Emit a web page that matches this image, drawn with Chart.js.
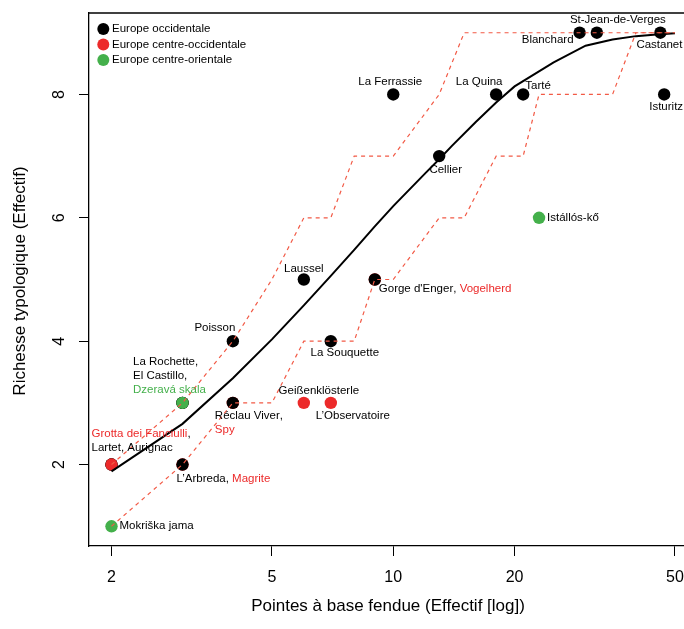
<!DOCTYPE html>
<html>
<head>
<meta charset="utf-8">
<script src="https://cdn.jsdelivr.net/npm/chart.js@4.4.1/dist/chart.umd.min.js"></script>
<style>
  html, body { margin: 0; padding: 0; background: #fff; overflow: hidden; }
  #wrap { position: relative; width: 684px; height: 629px; }
</style>
</head>
<body>
<div id="wrap"><canvas id="chartCanvas"></canvas></div>
<script>
// sites (order = drawing order, later ones on top)
const siteNames = ['Mokriška jama', 'Lartet', 'Aurignac', 'Grotta dei Fanciulli', 'Magrite', 'L\u2019Arbreda',
  'La Rochette', 'El Castillo', 'Dzeravá skala', 'Spy', 'Réclau Viver', 'Poisson', 'Geißenklösterle',
  'L\u2019Observatoire', 'Laussel', 'La Souquette', 'Vogelherd', 'Gorge d\'Enger', 'La Ferrassie', 'Cellier',
  'La Quina', 'Tarté', 'Istállós-kő', 'Blanchard', 'St-Jean-de-Verges', 'Castanet', 'Isturitz'];
const siteX = [2, 2, 2, 2, 3, 3, 3, 3, 3, 4, 4, 4, 6, 7, 6, 7, 9, 9, 10, 13, 18, 21, 23, 29, 32, 46, 47];
const siteY = [1, 2, 2, 2, 2, 2, 3, 3, 3, 3, 3, 4, 3, 3, 5, 4, 5, 5, 8, 7, 8, 8, 6, 9, 9, 9, 8];
// 0 = Europe occidentale, 1 = centre-occidentale, 2 = centre-orientale
const siteRegion = [2, 0, 0, 1, 1, 0, 0, 0, 2, 1, 0, 0, 1, 1, 0, 0, 1, 0, 0, 0, 0, 0, 2, 0, 0, 0, 0];
const regionNames = ['Europe occidentale', 'Europe centre-occidentale', 'Europe centre-orientale'];

// courbe de raréfaction + enveloppe
const curveX = [2, 3, 4, 5, 6, 7, 8, 9, 10, 12, 13, 14, 16, 18, 20, 25, 30, 35, 40, 45, 50];
const curveY = [1.89, 2.66, 3.40, 4.03, 4.58, 5.06, 5.48, 5.86, 6.19, 6.72, 6.95, 7.17, 7.55, 7.87, 8.13, 8.52, 8.79, 8.89, 8.945, 8.97, 8.99];
const upperX = [2, 3, 4, 5, 6, 7, 8, 10, 13, 15, 50];
const upperY = [2, 3, 4, 5, 6, 6, 7, 7, 8, 9, 9];
const lowerX = [2, 3, 4, 5, 6, 8, 9, 10, 13, 15, 18, 21, 23, 35, 40, 50];
const lowerY = [1, 2, 3, 3, 4, 4, 5, 5, 6, 6, 7, 7, 8, 8, 9, 9];

const xTicks = [2, 5, 10, 20, 50];
const yTicks = [2, 4, 6, 8];
const xTitle = 'Pointes à base fendue (Effectif [log])';
const yTitle = 'Richesse typologique (Effectif)';

const regionColors = ['#000000', '#ec2a2a', '#44b04b'];
const bandColor = '#f25a46';
const FONT = '"Liberation Sans", Arial, Helvetica, sans-serif';

// étiquettes : lignes de sites, décalage en pixels depuis le premier site
const labelGroups = [
  { lines: [[0]], dx: 8, dy: 0, align: 'left' },
  { lines: [[3], [1, 2]], dx: -20, dy: -30.5, align: 'left' },
  { lines: [[6], [7], [8]], dx: -49.5, dy: -41.5, align: 'left' },
  { lines: [[11]], dx: -18, dy: -13.5, align: 'center' },
  { lines: [[10], [9]], dx: -18, dy: 13, align: 'left' },
  { lines: [[5, 4]], dx: -6, dy: 14, align: 'left' },
  { lines: [[12]], dx: 15, dy: -12.5, align: 'center' },
  { lines: [[13]], dx: 22, dy: 13, align: 'center' },
  { lines: [[14]], dx: 0, dy: -11, align: 'center' },
  { lines: [[15]], dx: 14, dy: 12, align: 'center' },
  { lines: [[17, 16]], dx: 4, dy: 9, align: 'left' },
  { lines: [[22]], dx: 8, dy: 0, align: 'left' },
  { lines: [[18]], dx: -3, dy: -12.5, align: 'center' },
  { lines: [[19]], dx: 6.5, dy: 14, align: 'center' },
  { lines: [[20]], dx: -17, dy: -12.5, align: 'center' },
  { lines: [[21]], dx: 15, dy: -9, align: 'center' },
  { lines: [[23]], dx: -32, dy: 7, align: 'center' },
  { lines: [[24]], dx: 21, dy: -12.5, align: 'center' },
  { lines: [[25]], dx: -1, dy: 12, align: 'center' },
  { lines: [[26]], dx: 2, dy: 12, align: 'center' }
];

function toPoints(xs, ys) {
  return xs.map((x, i) => ({ x: x, y: ys[i] }));
}

const decor = {
  id: 'decor',
  afterDraw(chart) {
    const ctx = chart.ctx;
    const xs = chart.scales.x, ys = chart.scales.y;
    const area = chart.chartArea;
    ctx.save();

    // bord haut du cadre
    ctx.strokeStyle = '#000';
    ctx.lineWidth = 1.3;
    ctx.beginPath();
    ctx.moveTo(area.left, area.top);
    ctx.lineTo(area.right, area.top);
    ctx.stroke();

    // graduations
    ctx.fillStyle = '#000';
    ctx.font = '16px ' + FONT;
    ctx.textAlign = 'center';
    ctx.textBaseline = 'middle';
    xTicks.forEach(v => ctx.fillText(String(v), xs.getPixelForValue(v), 578));
    yTicks.forEach(v => {
      ctx.save();
      ctx.translate(60, ys.getPixelForValue(v));
      ctx.rotate(-Math.PI / 2);
      ctx.fillText(String(v), 0, 0);
      ctx.restore();
    });

    // titres
    ctx.font = '17px ' + FONT;
    ctx.fillText(xTitle, 388, 606);
    ctx.save();
    ctx.translate(20, 281);
    ctx.rotate(-Math.PI / 2);
    ctx.fillText(yTitle, 0, 0);
    ctx.restore();

    // étiquettes des sites (couleur de région seulement pour les étiquettes groupées)
    ctx.font = '11.5px ' + FONT;
    ctx.textBaseline = 'middle';
    labelGroups.forEach(g => {
      const first = g.lines[0][0];
      const multi = g.lines.flat().length > 1;
      const px = xs.getPixelForValue(siteX[first]) + g.dx;
      let py = ys.getPixelForValue(siteY[first]) + g.dy;
      g.lines.forEach((line, li) => {
        const segs = [];
        line.forEach((s, k) => {
          segs.push({ t: siteNames[s], c: multi ? regionColors[siteRegion[s]] : '#000' });
          if (k < line.length - 1) segs.push({ t: ', ', c: '#000' });
        });
        if (li < g.lines.length - 1) segs.push({ t: ',', c: '#000' });
        const total = segs.reduce((w, s) => w + ctx.measureText(s.t).width, 0);
        let x = g.align === 'center' ? px - total / 2 : px;
        ctx.textAlign = 'left';
        segs.forEach(s => {
          ctx.fillStyle = s.c;
          ctx.fillText(s.t, x, py);
          x += ctx.measureText(s.t).width;
        });
        py += 14;
      });
    });

    // légende
    regionNames.forEach((name, i) => {
      const y = 29 + i * 15.5;
      ctx.fillStyle = regionColors[i];
      ctx.beginPath();
      ctx.arc(103.3, y, 6, 0, Math.PI * 2);
      ctx.fill();
      ctx.fillStyle = '#000';
      ctx.textAlign = 'left';
      ctx.fillText(name, 112, y);
    });
    ctx.restore();
  }
};

const ctx = document.getElementById('chartCanvas').getContext('2d');
const chart = new Chart(ctx, {
  type: 'scatter',
  data: {
    datasets: [
      {
        label: 'borne inférieure',
        data: toPoints(lowerX, lowerY),
        showLine: true, borderColor: bandColor, borderWidth: 1.2, borderDash: [4, 4],
        pointRadius: 0, fill: false
      },
      {
        label: 'borne supérieure',
        data: toPoints(upperX, upperY),
        showLine: true, borderColor: bandColor, borderWidth: 1.2, borderDash: [4, 4],
        pointRadius: 0, fill: false
      },
      {
        label: 'courbe',
        data: toPoints(curveX, curveY),
        showLine: true, borderColor: '#000', borderWidth: 2,
        pointRadius: 0, fill: false
      },
      {
        label: 'sites',
        data: toPoints(siteX, siteY),
        pointRadius: 6.2, pointHoverRadius: 6.2, pointBorderWidth: 0,
        pointBackgroundColor: siteRegion.map(r => regionColors[r]),
        pointBorderColor: siteRegion.map(r => regionColors[r])
      }
    ]
  },
  options: {
    responsive: true,
    maintainAspectRatio: false,
    animation: false,
    layout: { autoPadding: false, padding: { top: 13, right: 0, left: 0, bottom: 0 } },
    plugins: { legend: { display: false }, tooltip: { enabled: false } },
    scales: {
      x: {
        type: 'logarithmic',
        min: 1.7587,
        max: 52.64,
        afterBuildTicks: s => { s.ticks = xTicks.map(v => ({ value: v })); },
        afterFit: s => { s.height = 83; },
        ticks: { display: false },
        grid: { drawOnChartArea: false, drawTicks: true, tickLength: 10, color: '#000', lineWidth: 1 },
        border: { display: true, color: '#000', width: 1.3 }
      },
      y: {
        type: 'linear',
        min: 0.68,
        max: 9.32,
        afterBuildTicks: s => { s.ticks = yTicks.map(v => ({ value: v })); },
        afterFit: s => { s.width = 89; },
        ticks: { display: false },
        grid: { drawOnChartArea: false, drawTicks: true, tickLength: 10, color: '#000', lineWidth: 1 },
        border: { display: true, color: '#000', width: 1.3 }
      }
    }
  },
  plugins: [decor]
});
</script>
</body>
</html>
